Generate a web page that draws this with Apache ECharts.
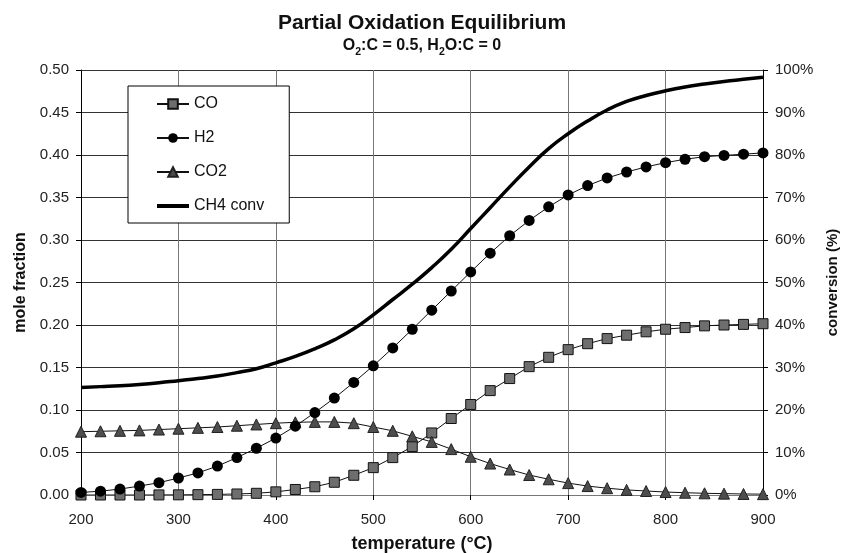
<!DOCTYPE html>
<html>
<head>
<meta charset="utf-8">
<script src="https://cdn.jsdelivr.net/npm/echarts@6/dist/echarts.min.js"></script>
<style>
  html, body { margin: 0; padding: 0; background: #fff; }
  #main { width: 844px; height: 553px; }
</style>
</head>
<body>
<div id="main"></div>
<script>
// temperature (°C)
var temps = [200, 220, 240, 260, 280, 300, 320, 340, 360, 380, 400, 420, 440, 460, 480, 500, 520, 540,
             560, 580, 600, 620, 640, 660, 680, 700, 720, 740, 760, 780, 800, 820, 840, 860, 880, 900]

// mole fractions
var co = [0, 0, 0, 0, 0.0001, 0.0002, 0.0004, 0.0007, 0.0012, 0.002, 0.0037, 0.0065, 0.0097, 0.015, 0.0232, 0.0322, 0.044, 0.057,
          0.073, 0.09, 0.1065, 0.1228, 0.137, 0.151, 0.162, 0.171, 0.178, 0.184, 0.188, 0.192, 0.195, 0.197, 0.199, 0.2, 0.2007, 0.2015]
var h2 = [0.003, 0.0045, 0.007, 0.0105, 0.0145, 0.02, 0.026, 0.034, 0.044, 0.055, 0.067, 0.081, 0.097, 0.114, 0.1325, 0.152, 0.173, 0.195,
          0.2175, 0.24, 0.2625, 0.2845, 0.305, 0.323, 0.339, 0.353, 0.364, 0.373, 0.38, 0.386, 0.391, 0.395, 0.398, 0.3995, 0.401, 0.4025]
var co2 = [0.0745, 0.075, 0.0755, 0.076, 0.077, 0.078, 0.079, 0.08, 0.0815, 0.083, 0.0845, 0.0855, 0.086, 0.086, 0.0845, 0.08, 0.0755, 0.069,
           0.0625, 0.054, 0.045, 0.037, 0.03, 0.0235, 0.0185, 0.014, 0.0105, 0.008, 0.006, 0.0047, 0.0035, 0.0027, 0.002, 0.0016, 0.0012, 0.001]

// CH4 conversion (%)
var ch4conv = [25.3, 25.5, 25.7, 26.0, 26.4, 26.9, 27.4, 28.0, 28.8, 29.7, 31.1, 32.6, 34.4, 36.5, 39.1, 42.4, 46.0, 49.6,
               53.5, 57.8, 62.7, 67.6, 72.5, 77.2, 81.5, 85.0, 88.0, 90.6, 92.6, 94.0, 95.1, 96.0, 96.7, 97.3, 97.8, 98.3]

var FONT = "'Liberation Sans', Arial, sans-serif"

function pairs(vals) {
    return temps.map(function (t, i) { return [t, vals[i]] })
}

var myChart = echarts.init(document.getElementById('main'))

var option = {
    backgroundColor: '#fff',
    animation: false,
    textStyle: { fontFamily: FONT },
    title: {
        text: 'Partial Oxidation Equilibrium',
        subtext: '{b|O}{s|2}{b|:C = 0.5, H}{s|2}{b|O:C = 0}',
        left: 'center',
        top: 13,
        padding: [0, 0, 0, 16],
        itemGap: 4,
        textStyle: { fontSize: 21, fontWeight: 'bold', color: '#111', fontFamily: FONT },
        subtextStyle: {
            color: '#111',
            rich: {
                b: { fontSize: 16, fontWeight: 'bold', color: '#111', fontFamily: FONT, lineHeight: 18, verticalAlign: 'top' },
                s: { fontSize: 10.5, fontWeight: 'bold', color: '#111', fontFamily: FONT, lineHeight: 11, padding: [9, 0, 0, 0], verticalAlign: 'top' }
            }
        }
    },
    legend: {
        orient: 'vertical',
        left: 128,
        top: 86,
        padding: [10, 25, 9, 28],
        itemGap: 18,
        itemWidth: 32,
        itemHeight: 12,
        backgroundColor: '#fff',
        borderColor: '#000',
        borderWidth: 1,
        textStyle: { fontSize: 16, color: '#111', fontFamily: FONT },
        data: ['CO', 'H2', 'CO2', {
            name: 'CH4 conv',
            icon: 'path://M0,0 L32,0 L32,4 L0,4 Z',
            itemStyle: { color: '#000' }
        }]
    },
    grid: { left: 81, right: 81, top: 70, bottom: 58, outerBoundsMode: 'none', containLabel: false },
    xAxis: {
        type: 'value',
        min: 200,
        max: 900,
        interval: 100,
        name: 'temperature (°C)',
        nameLocation: 'middle',
        nameGap: 40,
        nameTextStyle: { fontSize: 18, fontWeight: 'bold', color: '#111', fontFamily: FONT },
        axisLine: { show: true, lineStyle: { color: '#777', width: 1 } },
        axisTick: { show: true, length: 5, lineStyle: { color: '#000' } },
        axisLabel: { fontSize: 15, color: '#222', margin: 17, fontFamily: FONT },
        splitLine: { show: true, lineStyle: { color: '#777', width: 1 } }
    },
    yAxis: [{
        type: 'value',
        min: 0,
        max: 0.5,
        interval: 0.05,
        name: 'mole fraction',
        nameLocation: 'middle',
        nameRotate: 90,
        nameGap: 50,
        nameTextStyle: { fontSize: 16, fontWeight: 'bold', color: '#111', fontFamily: FONT },
        axisLine: { show: true, lineStyle: { color: '#000', width: 1 } },
        axisTick: { show: true, length: 5, lineStyle: { color: '#000' } },
        axisLabel: { fontSize: 15, color: '#222', margin: 12, fontFamily: FONT,
                     formatter: function (v) { return v.toFixed(2) } },
        splitLine: { show: true, lineStyle: { color: '#333', width: 1 } }
    }, {
        type: 'value',
        min: 0,
        max: 100,
        interval: 10,
        name: 'conversion (%)',
        nameLocation: 'middle',
        nameRotate: 90,
        nameGap: 62,
        nameTextStyle: { fontSize: 15, fontWeight: 'bold', color: '#111', fontFamily: FONT },
        axisLine: { show: true, lineStyle: { color: '#000', width: 1 } },
        axisTick: { show: true, length: 5, lineStyle: { color: '#000' } },
        axisLabel: { fontSize: 15, color: '#222', margin: 12, fontFamily: FONT, formatter: '{value}%' },
        splitLine: { show: false }
    }],
    series: [{
        name: 'CO',
        type: 'line',
        yAxisIndex: 0,
        data: pairs(co),
        symbol: 'rect',
        symbolSize: 10,
        itemStyle: { color: '#6e6e6e', borderColor: '#111', borderWidth: 1 },
        lineStyle: { color: '#111', width: 1 },
        z: 3
    }, {
        name: 'H2',
        type: 'line',
        yAxisIndex: 0,
        data: pairs(h2),
        symbol: 'circle',
        symbolSize: 11,
        itemStyle: { color: '#000', borderColor: '#000', borderWidth: 0 },
        lineStyle: { color: '#111', width: 1 },
        z: 4
    }, {
        name: 'CO2',
        type: 'line',
        yAxisIndex: 0,
        data: pairs(co2),
        symbol: 'triangle',
        symbolSize: 11,
        itemStyle: { color: '#4d4d4d', borderColor: '#222', borderWidth: 1 },
        lineStyle: { color: '#111', width: 1 },
        z: 3
    }, {
        name: 'CH4 conv',
        type: 'line',
        yAxisIndex: 1,
        data: pairs(ch4conv),
        smooth: true,
        symbol: 'none',
        showSymbol: false,
        itemStyle: { color: '#000' },
        lineStyle: { color: '#000', width: 3.5 },
        z: 2
    }]
}

myChart.setOption(option)
</script>
</body>
</html>
